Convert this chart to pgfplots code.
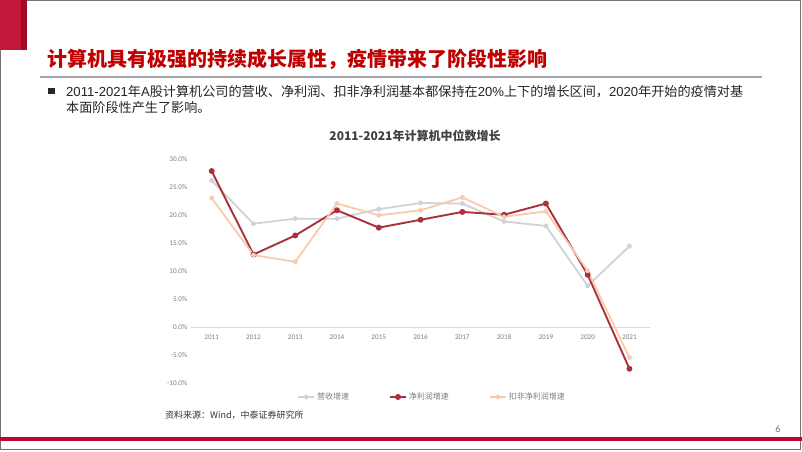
\documentclass[border=0pt]{standalone}
\usepackage{fontspec}
\usepackage{pgfplots}
\pgfplotsset{compat=1.18}
\setmainfont{Carlito}
\newfontfamily\cjk{Noto Sans CJK SC}
\newfontfamily\arial{Liberation Sans}
\definecolor{titlered}{HTML}{C00000}
\definecolor{slidered}{HTML}{C4173A}
\definecolor{darkstripe}{HTML}{9E0C2A}
\definecolor{barred}{HTML}{C0062C}
\definecolor{rev}{HTML}{CFD3D7}
\definecolor{np}{HTML}{A8323C}
\definecolor{kf}{HTML}{F8CBAD}
\definecolor{ticklab}{HTML}{7F7F7F}
\begin{document}
\begin{tikzpicture}[x=1pt,y=1pt]
\useasboundingbox (0,0) rectangle (802,451);
\fill[white] (0,0) rectangle (802,451);
\draw[black!55, line width=1pt] (0.5,1.5) rectangle (800.5,450.5);
\fill[slidered] (0,451) rectangle (21,401);
\fill[darkstripe] (21,451) rectangle (27,401);
\node[anchor=base west, inner sep=0, text=titlered, font=\cjk\bfseries\fontsize{20}{24}\selectfont] at (47,384.4) {计算机具有极强的持续成长属性，疫情带来了阶段性影响};
\draw[black!35, line width=1.5pt] (40,374) -- (762,374);
\fill[black!85] (48,357) rectangle (54.5,363.5);
\node[anchor=base west, inner sep=0, text=black!85, font=\cjk\fontsize{13.12}{16}\selectfont] at (66,354.5) {{\arial 2011-2021}年{\arial A}股计算机公司的营收、净利润、扣非净利润基本都保持在{\arial 20\%}上下的增长区间，{\arial 2020}年开始的疫情对基};
\node[anchor=base west, inner sep=0, text=black!85, font=\cjk\fontsize{13.12}{16}\selectfont] at (66,338.5) {本面阶段性产生了影响。};
\node[anchor=base, inner sep=0, text=black!75, font=\cjk\bfseries\fontsize{12}{14}\selectfont] at (415,310.4) {2011-2021年计算机中位数增长};
\node[anchor=base west, inner sep=0, text=black!80, font=\cjk\fontsize{9}{11}\selectfont] at (165,32.6) {资料来源：Wind，中泰证券研究所};
\node[anchor=base, inner sep=0, text=black!55, font=\fontsize{10}{12}\selectfont] at (778,18.8) {6};
\fill[barred] (0,10) rectangle (802,14);
\begin{axis}[
  at={(190.8pt,67.7pt)}, anchor=south west,
  scale only axis, width=459.5pt, height=224pt,
  xmin=-0.5, xmax=10.5, ymin=-10, ymax=30,
  axis x line*=middle, axis y line*=left,
  y axis line style={draw=none},
  x axis line style={draw=black!15, line width=0.8pt},
  xtick={0,1,2,3,4,5,6,7,8,9,10},
  xticklabels={2011,2012,2013,2014,2015,2016,2017,2018,2019,2020,2021},
  ytick={-10,-5,0,5,10,15,20,25,30},
  major tick length=0pt,
  tick label style={font=\fontsize{7.2}{8}\selectfont, text=ticklab},
  xticklabel style={yshift=-4pt},
  yticklabel={\pgfmathprintnumber[fixed,fixed zerofill,precision=1]{\tick}\%},
  /pgf/number format/assume math mode=true,
  hide obscured x ticks=false, hide obscured y ticks=false,
  clip=false,
  legend columns=3,
  legend style={at={(0.525,-0.061)}, anchor=center, draw=none, fill=none,
    font=\cjk\fontsize{8}{9}\selectfont, text=ticklab,
    /tikz/every even column/.append style={column sep=38pt}},
  legend image code/.code={\draw[#1,mark=none] (0pt,0pt) -- (16pt,0pt); \draw[#1,only marks] plot coordinates {(8pt,0pt)};},
  every axis plot/.append style={line join=round},
]
\addplot[color=rev, line width=1.8pt, mark=*, mark size=1.8pt, mark options={solid,fill=rev}] coordinates {(0,26.2)(1,18.5)(2,19.4)(3,19.4)(4,21.1)(5,22.2)(6,22.1)(7,18.9)(8,18.1)(9,7.4)(10,14.5)};
\addlegendentry{营收增速}
\addplot[color=np, line width=1.9pt, mark=*, mark size=2pt, mark options={solid,fill=np}] coordinates {(0,27.9)(1,13.0)(2,16.4)(3,20.9)(4,17.8)(5,19.2)(6,20.6)(7,20.1)(8,22.1)(9,9.4)(10,-7.4)};
\addlegendentry{净利润增速}
\addplot[color=kf, line width=1.8pt, mark=*, mark size=1.8pt, mark options={solid,fill=kf}] coordinates {(0,23.1)(1,12.9)(2,11.7)(3,22.1)(4,20.0)(5,20.9)(6,23.2)(7,19.75)(8,20.7)(9,10.1)(10,-5.4)};
\addlegendentry{扣非净利润增速}
\end{axis}
\end{tikzpicture}
\end{document}
